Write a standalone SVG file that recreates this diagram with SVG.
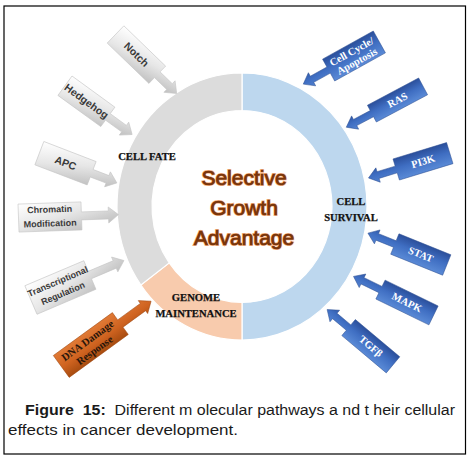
<svg xmlns="http://www.w3.org/2000/svg" width="471" height="457" viewBox="0 0 471 457">
<defs>
<linearGradient id="gGray" x1="0" y1="0" x2="1" y2="1">
<stop offset="0" stop-color="#ffffff"/><stop offset="0.45" stop-color="#e6e6e6"/><stop offset="1" stop-color="#b3b3b3"/>
</linearGradient>
<linearGradient id="gBlue" x1="0" y1="0" x2="0" y2="1">
<stop offset="0" stop-color="#5a8ad6"/><stop offset="0.55" stop-color="#3f6ec2"/><stop offset="1" stop-color="#2b4f9b"/>
</linearGradient>
<linearGradient id="gOrange" x1="0" y1="0" x2="0" y2="1">
<stop offset="0" stop-color="#e07a36"/><stop offset="0.55" stop-color="#cf6320"/><stop offset="1" stop-color="#a84c10"/>
</linearGradient>
</defs>
<style>
.gray{fill:url(#gGray);stroke:#c4c4c4;stroke-width:0.6}
.blue{fill:url(#gBlue);stroke:#2d4f92;stroke-width:0.5}
.orange{fill:url(#gOrange);stroke:#9c460f;stroke-width:0.5}
.tg{font-family:"Liberation Sans",Arial,sans-serif;font-weight:bold;fill:#3a3a3a;text-anchor:middle}
.tb{font-family:"Liberation Serif","Times New Roman",serif;font-weight:bold;fill:#ffffff;text-anchor:middle;font-size:10.5px}
.to{font-family:"Liberation Serif","Times New Roman",serif;font-weight:bold;fill:#2a160a;text-anchor:middle;font-size:10.5px}
.lab{font-family:"Liberation Serif","Times New Roman",serif;font-weight:bold;fill:#111;stroke:#111;stroke-width:0.25;text-anchor:middle;font-size:10.6px}
.center{font-family:"Liberation Sans",Arial,sans-serif;font-size:21px;fill:#7a360b;stroke:#f4b183;stroke-width:2;paint-order:stroke;text-anchor:middle}
.center2{font-family:"Liberation Sans",Arial,sans-serif;font-size:21px;fill:#7a360b;stroke:#7a360b;stroke-width:0.5;text-anchor:middle}
.cap{font-family:"Liberation Sans",Arial,sans-serif;font-size:15.5px;fill:#1a1a1a}
</style>
<rect x="0" y="0" width="471" height="457" fill="#ffffff"/>
<rect x="4" y="6" width="461.5" height="448" fill="none" stroke="#000" stroke-width="1.2"/>

<g id="ring">
<path d="M242,73 A125,133.5 0 0 1 242,340 L242,302.5 A90,96 0 0 0 242,110.5 Z" fill="#bdd7ee" stroke="#fff" stroke-width="1.2"/>
<path d="M242,340 A125,133.5 0 0 1 140.9,285 L169.2,262.9 A90,96 0 0 0 242,302.5 Z" fill="#f8cbad" stroke="#fff" stroke-width="1.2"/>
<path d="M140.9,285 A125,133.5 0 0 1 242,73 L242,110.5 A90,96 0 0 0 169.2,262.9 Z" fill="#dcdcdc" stroke="#fff" stroke-width="1.2"/>
</g>

<g id="center-text">
<text class="center" x="244" y="185">Selective</text>
<text class="center" x="244" y="215">Growth</text>
<text class="center" x="244" y="245">Advantage</text>
<text class="center2" x="244" y="185">Selective</text>
<text class="center2" x="244" y="215">Growth</text>
<text class="center2" x="244" y="245">Advantage</text>
</g>

<g id="labels">
<text class="lab" x="147" y="159.5">CELL FATE</text>
<text class="lab" x="351" y="204.5">CELL</text>
<text class="lab" x="351" y="220.5">SURVIVAL</text>
<text class="lab" x="196" y="300.5">GENOME</text>
<text class="lab" x="196" y="316.5">MAINTENANCE</text>
</g>

<g id="connectors">
<g id="notch" transform="translate(136.4,54.6) rotate(44)">
<path class="gray" d="M-29,-12 H29 V-4 H46 V-8 L56,0 L46,8 V4 H29 V12 H-29 Z"/>
<text class="tg" x="0" y="3.5" font-size="10.5">Notch</text>
</g>
<g id="hedgehog" transform="translate(86.4,101.3) rotate(36)">
<path class="gray" d="M-26.5,-12 H26.5 V-4 H46.5 V-8 L56.5,0 L46.5,8 V4 H26.5 V12 H-26.5 Z"/>
<text class="tg" x="0" y="3.5" font-size="10.5">Hedgehog</text>
</g>
<g id="apc" transform="translate(65.5,163.2) rotate(21)">
<path class="gray" d="M-28,-12.5 H28 V-4 H45 V-8 L55,0 L45,8 V4 H28 V12.5 H-28 Z"/>
<text class="tg" x="0" y="3.5" font-size="10.5">APC</text>
</g>
<g id="chromatin" transform="translate(50,217) rotate(-2)">
<path class="gray" d="M-31.5,-14 H31.5 V-4 H58.5 V-8 L68.5,0 L58.5,8 V4 H31.5 V14 H-31.5 Z"/>
<text class="tg" x="0" y="-4.5" font-size="9">Chromatin</text>
<text class="tg" x="0" y="9.5" font-size="9">Modification</text>
</g>
<g id="transcriptional" transform="translate(60.4,287.5) rotate(-23)">
<path class="gray" d="M-32,-15.5 H32 V-4 H59 V-8 L69,0 L59,8 V4 H32 V15.5 H-32 Z"/>
<text class="tg" x="0" y="-3.5" font-size="9">Transcriptional</text>
<text class="tg" x="0" y="9.5" font-size="9">Regulation</text>
</g>
<g id="dna-damage" transform="translate(90.8,345) rotate(-36)">
<path class="orange" d="M-36.5,-13.5 H36.5 V-4.5 H64.5 V-8 L74.5,0 L64.5,8 V4.5 H36.5 V13.5 H-36.5 Z"/>
<text class="to" x="0" y="-2">DNA Damage</text>
<text class="to" x="0" y="10">Response</text>
</g>
<g id="cell-cycle" transform="translate(354,56) rotate(151)">
<path class="blue" d="M-29,-12.5 H29 V-3.5 H48 V-7.5 L58,0 L48,7.5 V3.5 H29 V12.5 H-29 Z"/>
<g transform="rotate(180)"><text class="tb" x="0" y="-1.5" font-size="10">Cell Cycle/</text><text class="tb" x="0" y="9.5" font-size="10">Apoptosis</text></g>
</g>
<g id="ras" transform="translate(397.5,100) rotate(152)">
<path class="blue" d="M-29,-9.5 H29 V-3.5 H48 V-7.5 L58,0 L48,7.5 V3.5 H29 V9.5 H-29 Z"/>
<text class="tb" x="0" y="3.5" transform="rotate(180)">RAS</text>
</g>
<g id="pi3k" transform="translate(423,161.3) rotate(163)">
<path class="blue" d="M-28,-11 H28 V-3.5 H47 V-7.5 L57,0 L47,7.5 V3.5 H28 V11 H-28 Z"/>
<text class="tb" x="0" y="3.5" transform="rotate(180)">PI3K</text>
</g>
<g id="stat" transform="translate(420.8,254.5) rotate(202)">
<path class="blue" d="M-28,-11 H28 V-3.5 H47 V-7.5 L57,0 L47,7.5 V3.5 H28 V11 H-28 Z"/>
<text class="tb" x="0" y="3.5" transform="rotate(180)">STAT</text>
</g>
<g id="mapk" transform="translate(407,302.5) rotate(206)">
<path class="blue" d="M-29.5,-10.5 H29.5 V-3.5 H49.5 V-7.5 L59.5,0 L49.5,7.5 V3.5 H29.5 V10.5 H-29.5 Z"/>
<text class="tb" x="0" y="3.5" transform="rotate(180)">MAPK</text>
</g>
<g id="tgfb" transform="translate(370.8,346.2) rotate(220)">
<path class="blue" d="M-29,-10.5 H29 V-3.5 H47 V-7.5 L57,0 L47,7.5 V3.5 H29 V10.5 H-29 Z"/>
<text class="tb" x="0" y="3.5" transform="rotate(180)">TGFβ</text>
</g>
</g>

<g id="caption">
<text class="cap" x="25" y="415" xml:space="preserve" textLength="430" lengthAdjust="spacingAndGlyphs"><tspan font-weight="bold">Figure  15:</tspan>  Different m olecular pathways a nd t heir cellular</text>
<text class="cap" x="8" y="435" textLength="230" lengthAdjust="spacingAndGlyphs">effects in cancer development.</text>
</g>
</svg>
